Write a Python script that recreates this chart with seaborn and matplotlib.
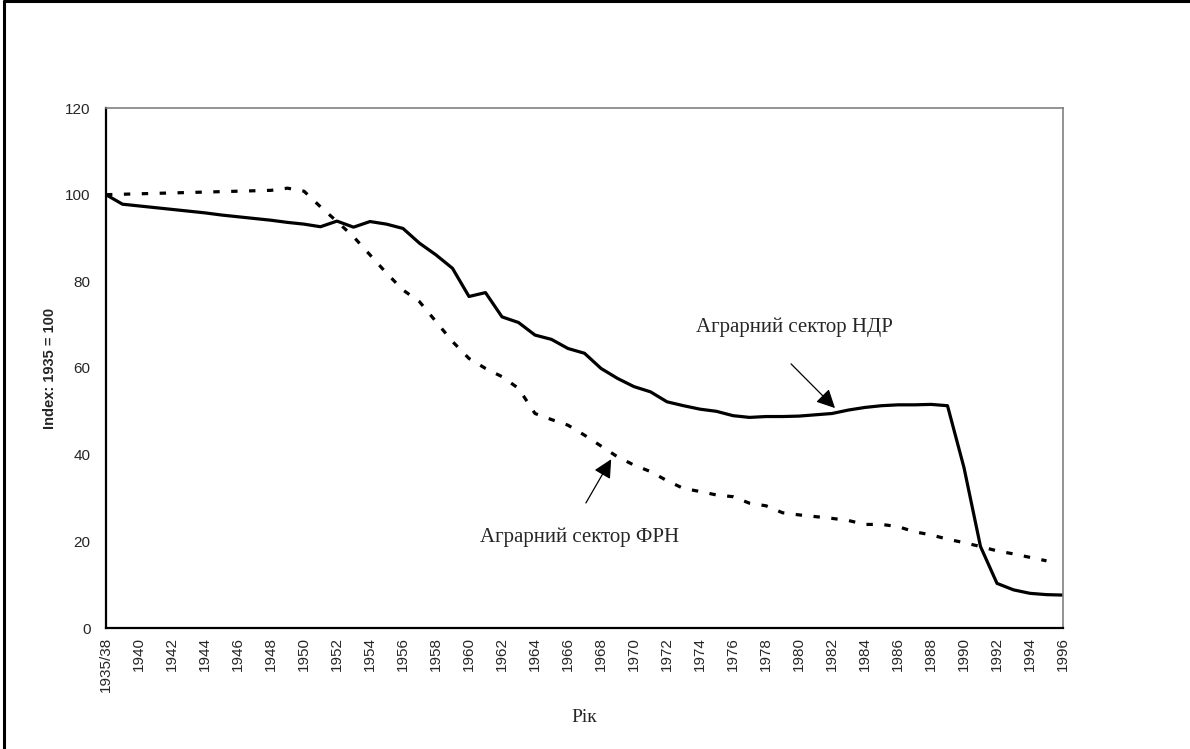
import numpy as np
import pandas as pd
import matplotlib
matplotlib.use('Agg')
import matplotlib.pyplot as plt
from matplotlib.lines import Line2D
import seaborn as sns

# categories on the x axis
years = ['1935/38'] + [str(y) for y in range(1939, 1997)]

# Agrarian sector GDR (solid line)
gdr = [100.0, 97.8, 97.4, 97.0, 96.6, 96.2, 95.8, 95.3, 94.9, 94.5,
       94.1, 93.6, 93.2, 92.6, 93.9, 92.5, 93.8, 93.2, 92.2, 88.8,
       86.1, 83.0, 76.5, 77.4, 71.8, 70.5, 67.6, 66.6, 64.5, 63.4,
       59.9, 57.6, 55.7, 54.5, 52.2, 51.3, 50.5, 50.0, 49.0, 48.6,
       48.8, 48.8, 48.9, 49.2, 49.5, 50.3, 50.9, 51.3, 51.5, 51.5,
       51.6, 51.3, 37.0, 18.8, 10.3, 8.8, 8.0, 7.7, 7.6]

# Agrarian sector FRG (dashed line), no value for 1996
frg = [100.0, 100.1, 100.2, 100.3, 100.4, 100.5, 100.6, 100.7, 100.8, 100.9,
       101.0, 101.5, 100.8, 97.2, 93.8, 90.3, 86.1, 81.9, 78.0, 75.3,
       70.7, 66.1, 62.2, 59.9, 58.0, 55.3, 49.5, 48.1, 46.8, 44.5,
       42.0, 39.5, 37.6, 36.1, 34.0, 32.2, 31.5, 30.7, 30.3, 28.8,
       28.2, 26.6, 26.1, 25.7, 25.3, 24.8, 23.9, 23.9, 23.4, 22.2,
       21.5, 20.5, 19.7, 18.8, 17.8, 17.1, 16.3, 15.5, np.nan]

y_ticks = [0, 20, 40, 60, 80, 100, 120]

pos = np.arange(len(years))
df = pd.concat([
    pd.DataFrame({'pos': pos, 'value': gdr, 'series': 'НДР'}),
    pd.DataFrame({'pos': pos, 'value': frg, 'series': 'ФРН'}),
]).dropna()

sns.set_style('white')
plt.rcParams['font.family'] = ['Liberation Sans', 'DejaVu Sans']

fig = plt.figure(figsize=(11.9, 7.49), dpi=100)
ax = fig.add_axes([106 / 1190, 1 - 628 / 749, (1063 - 106) / 1190, (628 - 108) / 749])

sns.lineplot(data=df, x='pos', y='value', style='series',
             dashes={'НДР': '', 'ФРН': (2.0, 3.6)},
             color='black', linewidth=2.3, legend=False, ax=ax)

ax.set_xlim(0, len(years) - 1)
ax.set_ylim(0, 120)
ax.set_yticks(y_ticks)
ax.set_xticks(pos)
ax.set_xticklabels([lab if i % 2 == 0 else '' for i, lab in enumerate(years)],
                   rotation=90, fontsize=11)
ax.tick_params(axis='x', direction='inout', length=7, width=1, color='black', pad=3)
ax.tick_params(axis='y', direction='out', length=4, width=1, color='black', pad=7,
               labelsize=11)
ax.set_ylabel('Index: 1935 = 100', fontsize=10.5, fontweight='bold', labelpad=6)
ax.set_xlabel('Рік', fontsize=14, family='Liberation Serif', labelpad=12)

for side in ['left', 'bottom']:
    ax.spines[side].set_color('black')
    ax.spines[side].set_linewidth(1.6)
for side in ['top', 'right']:
    ax.spines[side].set_visible(True)
    ax.spines[side].set_color('#808080')
    ax.spines[side].set_linewidth(1.2)

# annotations with arrows
ax.text(41.75, 69.5, 'Аграрний сектор НДР', ha='center', va='center',
        fontsize=15, family='Liberation Serif')
ax.annotate('', xy=(44.3, 50.3), xytext=(41.4, 61.4),
            arrowprops=dict(arrowstyle='-|>', color='black', lw=0.9, mutation_scale=28))
ax.text(28.7, 21.0, 'Аграрний сектор ФРН', ha='center', va='center',
        fontsize=15, family='Liberation Serif')
ax.annotate('', xy=(30.7, 39.5), xytext=(29.0, 28.3),
            arrowprops=dict(arrowstyle='-|>', color='black', lw=0.9, mutation_scale=28))

# outer frame (top and left edges)
fig.add_artist(Line2D([0.003, 1.0], [0.998, 0.998], color='black', lw=2.2))
fig.add_artist(Line2D([0.0035, 0.0035], [0.0, 0.998], color='black', lw=2.2))

fig.savefig('out.png', dpi=100)
